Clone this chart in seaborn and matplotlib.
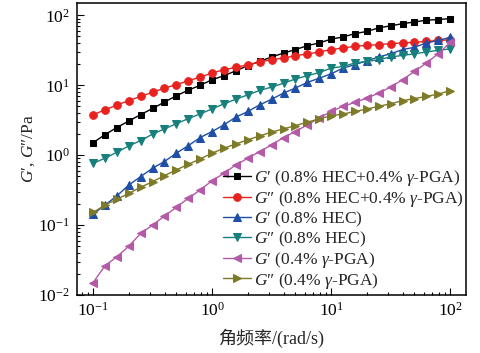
import matplotlib
matplotlib.use("Agg")
import matplotlib.pyplot as plt
import seaborn as sns
import numpy as np

# angular frequency sweep (rad/s)
omega = [0.1, 0.126, 0.158, 0.2, 0.251, 0.316, 0.398, 0.501, 0.631, 0.794,
         1.0, 1.26, 1.58, 2.0, 2.51, 3.16, 3.98, 5.01, 6.31, 7.94,
         10.0, 12.6, 15.8, 20.0, 25.1, 31.6, 39.8, 50.1, 63.1, 79.4, 100.0]

g1_mix = [1.51, 1.97, 2.48, 3.09, 3.80, 4.66, 5.75, 7.08, 8.51, 10.0,
          12.0, 13.7, 16.1, 19.1, 21.9, 25.4, 28.8, 32.4, 36.8, 40.3,
          45.7, 49.0, 54.7, 58.9, 66.1, 70.8, 75.9, 80.4, 85.1, 87.1, 89.7]
g2_mix = [3.78, 4.46, 5.20, 6.05, 6.92, 7.94, 9.12, 10.2, 11.6, 13.1,
          15.0, 16.7, 18.0, 19.7, 21.5, 23.2, 24.5, 26.5, 28.0, 29.9,
          32.4, 34.1, 36.0, 37.2, 38.0, 39.4, 40.3, 41.0, 42.4, 43.7, 44.7]
g1_hec = [0.143, 0.194, 0.261, 0.376, 0.494, 0.652, 0.813, 1.07, 1.37, 1.79,
          2.18, 2.72, 3.50, 4.22, 5.25, 6.31, 7.73, 9.12, 11.0, 12.6,
          14.6, 17.6, 19.7, 22.4, 25.4, 28.2, 32.4, 34.9, 40.3, 43.7, 48.4]
g2_hec = [0.767, 0.906, 1.10, 1.36, 1.62, 2.00, 2.38, 2.82, 3.34, 3.89,
          4.60, 5.43, 6.31, 7.31, 8.43, 9.42, 10.7, 12.3, 13.7, 15.2,
          17.6, 18.6, 20.8, 21.9, 23.2, 25.4, 26.7, 28.2, 29.9, 31.6, 33.1]
g1_pga = [0.0151, 0.0263, 0.0352, 0.0501, 0.0762, 0.100, 0.135, 0.180, 0.242, 0.318,
          0.433, 0.552, 0.726, 0.906, 1.13, 1.40, 1.79, 2.18, 2.72, 3.39,
          4.22, 5.01, 5.68, 6.55, 7.73, 9.42, 12.0, 15.8, 20.8, 28.2, 41.0]
g2_pga = [0.152, 0.194, 0.234, 0.285, 0.348, 0.419, 0.511, 0.617, 0.741, 0.885,
          1.07, 1.26, 1.45, 1.66, 1.89, 2.14, 2.38, 2.65, 2.97, 3.31,
          3.66, 3.89, 4.22, 4.57, 5.01, 5.43, 6.03, 6.46, 6.92, 7.50, 8.37]

labels = [
    r"$G$′ (0.8% HEC+0.4% $γ$-PGA)",
    r"$G$″ (0.8% HEC+0.4% $γ$-PGA)",
    r"$G$′ (0.8% HEC)",
    r"$G$″ (0.8% HEC)",
    r"$G$′ (0.4% $γ$-PGA)",
    r"$G$″ (0.4% $γ$-PGA)",
]
series = [g1_mix, g2_mix, g1_hec, g2_hec, g1_pga, g2_pga]
colors = ["#000000", "#e8231f", "#1f4ea6", "#17807d", "#b45aa8", "#7d7a28"]
markers = ["s", "o", "^", "v", "<", ">"]
msizes = [4.5, 5.5, 5.5, 5.5, 5.5, 5.5]

sns.set_style("ticks")
plt.rcParams["font.family"] = ["Liberation Serif", "Noto Sans CJK SC"]
plt.rcParams["mathtext.fontset"] = "custom"
plt.rcParams["mathtext.rm"] = "Liberation Serif"
plt.rcParams["mathtext.it"] = "Liberation Serif:italic"
plt.rcParams["font.size"] = 12

fig = plt.figure(figsize=(4.8, 3.53), dpi=100)
ax = fig.add_axes([0.160, 0.164, 0.811, 0.8275])

for vals, lab, c, m, ms in zip(series, labels, colors, markers, msizes):
    sns.lineplot(x=omega, y=vals, ax=ax, color=c, marker=m, markersize=ms,
                 markeredgecolor=c, linewidth=1.0, label=lab)

ax.set_xscale("log")
ax.set_yscale("log")
ax.set_xlim(0.073, 136)
ax.set_ylim(0.01, 150)

ax.tick_params(which="both", direction="in", top=False, right=False,
               labelsize=12.5, width=0.8, colors="black")
ax.tick_params(which="major", length=5, pad=5)
ax.tick_params(which="minor", length=2.5)
for sp in ax.spines.values():
    sp.set_linewidth(1.1)
    sp.set_color("black")

ax.set_xlabel("角频率/(rad/s)", fontsize=13, labelpad=6)
ax.set_ylabel(r"$G$′, $G$″/Pa", fontsize=12.5, labelpad=1)

ax.legend(loc="lower right", bbox_to_anchor=(1.012, -0.008), frameon=False,
          handlelength=1.6, handletextpad=0.15, labelspacing=0.05,
          borderaxespad=0.1, borderpad=0.3, fontsize=12.5)

fig.savefig("out.png", dpi=100)
